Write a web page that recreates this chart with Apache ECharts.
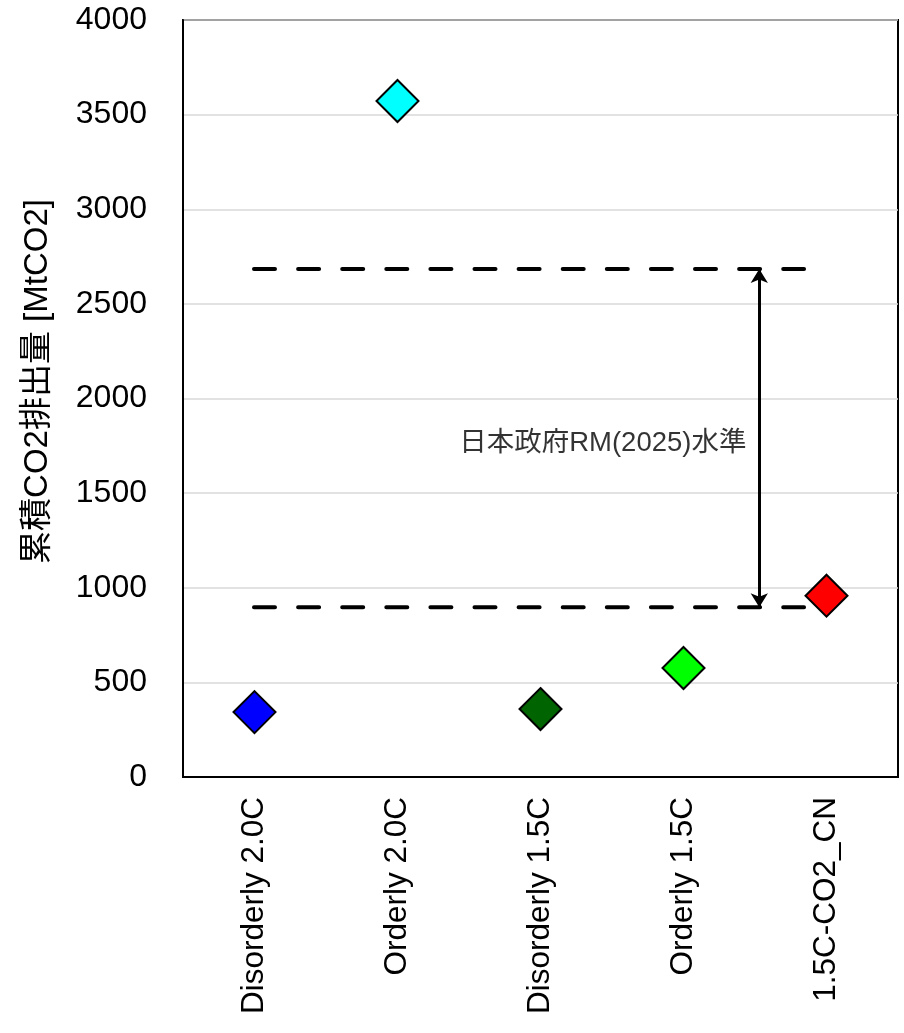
<!DOCTYPE html>
<html><head><meta charset="utf-8">
<script src="https://cdn.jsdelivr.net/npm/echarts@6/dist/echarts.min.js"></script>
<style>html,body{margin:0;padding:0;background:#fff}#c{width:904px;height:1033px}</style>
</head><body><div id="c"></div>
<script>
const categories = ['Disorderly 2.0C', 'Orderly 2.0C', 'Disorderly 1.5C', 'Orderly 1.5C', '1.5C-CO2_CN'];
const values = [343, 3572, 359, 576, 958];
const pointColors = ['#0000ff', '#00ffff', '#006400', '#00ff00', '#ff0000'];
const yMin = 0, yMax = 4000, yStep = 500;
const refLevels = [897, 2684];
const refSpan = [0.4965, 4.343];
const arrowX = 4.03;
const refLabel = '日本政府RM(2025)水準';
const refLabelPos = [3.94, 1760];
const yTitle = '累積CO2排出量 [MtCO2]';

const FONT = "'Liberation Sans', Arial, 'Noto Sans CJK JP', sans-serif";
const chart = echarts.init(document.getElementById('c'), null, {renderer: 'canvas'});

const series = [{
  type: 'scatter', xAxisIndex: 0, yAxisIndex: 0,
  symbol: 'diamond', symbolSize: 42, z: 5,
  data: values.map((v, i) => ({value: v, itemStyle: {color: pointColors[i]}})),
  itemStyle: {borderColor: '#000', borderWidth: 2, opacity: 1}
}];
refLevels.forEach((lv, k) => {
  series.push({
    type: 'line', xAxisIndex: 1, yAxisIndex: 0, symbol: 'none', silent: true, z: 3,
    data: [[refSpan[0], lv], [refSpan[1], lv]],
    lineStyle: {color: '#000', width: 4, type: [21, 23.1], cap: 'round'},
    markLine: k === 0 ? {
      silent: true, symbol: ['arrow', 'arrow'], symbolSize: [13, 14],
      label: {show: false},
      lineStyle: {color: '#000', width: 3, type: 'solid'},
      data: [[{coord: [arrowX, refLevels[0]]}, {coord: [arrowX, refLevels[1]]}]]
    } : undefined
  });
});
series.push({
  type: 'scatter', xAxisIndex: 1, yAxisIndex: 0, symbolSize: 0, silent: true,
  data: [refLabelPos],
  label: {show: true, position: 'left', distance: 0, formatter: refLabel,
    color: '#000', fontSize: 27.5, fontFamily: FONT}
});

chart.setOption({
  backgroundColor: '#fff',
  animation: false,
  grid: {left: 183, right: 6, top: 20, bottom: 256, show: true, borderColor: '#000', borderWidth: 2},
  xAxis: [{
    type: 'category', data: categories, boundaryGap: true,
    axisLine: {show: true, lineStyle: {color: '#000', width: 2}},
    axisTick: {show: false},
    axisLabel: {rotate: 90, margin: 20, fontSize: 31.5, color: '#000', fontFamily: FONT}
  }, {
    type: 'value', min: 0, max: 5, show: false
  }],
  yAxis: [{
    type: 'value', min: yMin, max: yMax, interval: yStep,
    axisLine: {show: true, lineStyle: {color: '#000', width: 2}},
    axisTick: {show: false},
    axisLabel: {margin: 36, fontSize: 32, color: '#000', fontFamily: FONT, formatter: v => String(v)},
    splitLine: {show: true, lineStyle: {color: '#d9d9d9', width: 1.5}},
    name: yTitle, nameLocation: 'middle', nameGap: 129, nameRotate: 90,
    nameTextStyle: {fontSize: 33, color: '#000', fontFamily: FONT, padding: [0, 0, 0, 34]}
  }],
  series: series
});
</script></body></html>
